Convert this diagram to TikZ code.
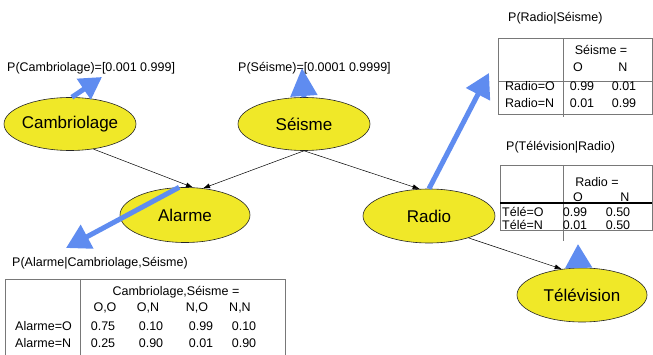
\documentclass[tikz,border=0pt]{standalone}
\usepackage{fontspec}
\setmainfont{Liberation Sans}
\usetikzlibrary{shapes.geometric,arrows.meta}
\definecolor{nodeyellow}{RGB}{240,232,40}
\definecolor{bluearr}{RGB}{95,140,240}
\definecolor{tabgray}{RGB}{120,120,120}
\tikzset{
  bnode/.style={ellipse, draw=black!85, line width=0.6pt, fill=nodeyellow, inner sep=0pt,
    minimum width=132pt, minimum height=53pt, font=\fontsize{17}{20}\selectfont},
  lbl/.style={anchor=west, inner sep=0pt, font=\fontsize{12.5}{14}\selectfont},
  cell/.style={inner sep=0pt, font=\fontsize{12.5}{14}\selectfont},
  lcell/.style={cell, anchor=west},
  dep/.style={-{Latex[length=7pt,width=5pt]}, line width=0.5pt},
  barrow/.style={bluearr, line width=5pt, -{Triangle[length=24pt,width=26pt]}},
  tabline/.style={draw=tabgray, line width=0.8pt}
}
\begin{document}
\begin{tikzpicture}[x=1pt,y=-1pt]
\useasboundingbox (0,0) rectangle (653,355);

% nodes
\node[bnode] (cam) at (70,124) {\makebox[0pt]{Cambriolage}};
\node[bnode] (seisme) at (304,124) {\makebox[0pt]{Séisme}};
\node[bnode, minimum width=130pt, minimum height=55pt] (alarme) at (185,215) {\makebox[0pt]{Alarme}};
\node[bnode, minimum height=54pt] (radio) at (429,216) {\makebox[0pt]{Radio}};
\node[bnode, minimum width=130pt, minimum height=54pt] (tv) at (582,295) {\makebox[0pt]{Télévision}};

% dependency arrows
\draw[dep] (cam.-47) -- (alarme.74);
\draw[dep] (seisme.south) -- (alarme.56);
\draw[dep] (seisme.south) -- (radio.109);
\draw[dep] (radio.-29) -- (tv.128);

% labels
\node[lbl] (lcam) at (7,68) {P(Cambriolage)=[0.001 0.999]};
\node[lbl] (lsei) at (238,68) {P(Séisme)=[0.0001 0.9999]};
\node[lbl] (lrad) at (508,18) {P(Radio|Séisme)};
\node[lbl] (ltv) at (506,147) {P(Télévision|Radio)};
\node[lbl] (lal) at (12,263) {P(Alarme|Cambriolage,Séisme)};

% blue arrows
\coordinate (tcam) at (102,77);
\coordinate (tsei) at (302,68);
\coordinate (trad) at (489,73);
\coordinate (ttv) at (578,244);
\coordinate (tal) at (66,248);
\draw[barrow, -{Triangle[length=22pt,width=24pt]}] (cam.86) -- (tcam);
\draw[barrow, -{Triangle[length=28pt,width=26pt]}] (seisme.north) -- (tsei);
\draw[barrow] (radio.north) -- (trad);
\draw[barrow] (tv.97) -- (ttv);
\draw[barrow] (alarme.102) -- (tal);

% Radio table
\draw[tabline] (498,38) rectangle (652,114);
\draw[tabline] (563,38) -- (563,117);
\draw[tabline] (498,81) -- (652,81);
\node[cell] (r1) at (601,50) {Séisme =};
\node[cell] (r2) at (578,67) {O};
\node[cell] (r3) at (623,67) {N};
\node[lcell] (r4) at (505,86) {Radio=O};
\node[lcell] (r5) at (505,103) {Radio=N};
\node[cell] (r6) at (582,86) {0.99};
\node[cell] (r7) at (624,86) {0.01};
\node[cell] (r8) at (582,103) {0.01};
\node[cell] (r9) at (624,103) {0.99};

% TV table
\draw[tabline] (500,165) rectangle (652,230);
\draw[tabline] (563,165) -- (563,241);
\draw[black, line width=1.2pt] (500,203) -- (652,203);
\node[cell] (t1) at (597,182) {Radio =};
\node[cell] (t2) at (578,197) {O};
\node[cell] (t3) at (625,197) {N};
\node[lcell] (t4) at (502,212) {Télé=O};
\node[lcell] (t5) at (502,225) {Télé=N};
\node[cell] (t6) at (575,212) {0.99};
\node[cell] (t7) at (618,212) {0.50};
\node[cell] (t8) at (575,225) {0.01};
\node[cell] (t9) at (618,225) {0.50};

% Alarme table
\draw[tabline] (5,356) -- (5,279) -- (285,279) -- (285,356);
\draw[tabline] (80,279) -- (80,356);
\node[cell] (a1) at (176,292) {Cambriolage,Séisme =};
\node[cell] (a2) at (105,308) {O,O};
\node[cell] (a3) at (148,308) {O,N};
\node[cell] (a4) at (197,308) {N,O};
\node[cell] (a5) at (240,308) {N,N};
\node[lcell] (a6) at (15,326) {Alarme=O};
\node[lcell] (a7) at (15,343) {Alarme=N};
\node[cell] (a8) at (103,326) {0.75};
\node[cell] (a9) at (151,326) {0.10};
\node[cell] (a10) at (201,326) {0.99};
\node[cell] (a11) at (244,326) {0.10};
\node[cell] (a12) at (103,343) {0.25};
\node[cell] (a13) at (151,343) {0.90};
\node[cell] (a14) at (201,343) {0.01};
\node[cell] (a15) at (244,343) {0.90};
\end{tikzpicture}
\end{document}
